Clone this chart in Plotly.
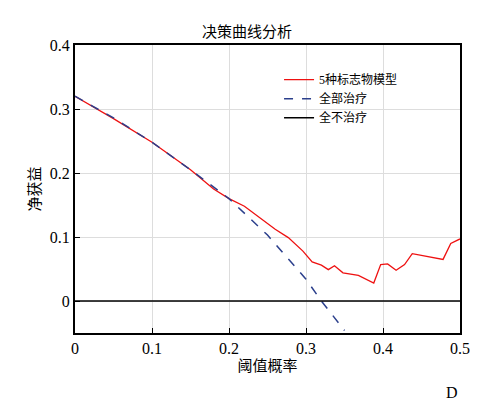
import plotly.graph_objects as go

model_x = [0, 0.05, 0.1, 0.15, 0.18, 0.2, 0.22, 0.24, 0.26, 0.277, 0.296, 0.308, 0.32, 0.329, 0.337, 0.348, 0.368, 0.388, 0.397, 0.406, 0.417, 0.428, 0.438, 0.478, 0.488, 0.5]
model_y = [0.32, 0.285, 0.248, 0.205, 0.175, 0.16, 0.148, 0.13, 0.112, 0.099, 0.078, 0.061, 0.056, 0.049, 0.055, 0.044, 0.040, 0.028, 0.057, 0.058, 0.048, 0.057, 0.074, 0.065, 0.09, 0.097]
all_x = [0, 0.05, 0.1, 0.15, 0.2, 0.25, 0.3, 0.32, 0.35]
all_y = [0.32, 0.286, 0.248, 0.205, 0.160, 0.103, 0.034, 0.0, -0.046]
none_x = [0, 0.5]
none_y = [0, 0]

font = "Liberation Serif, Noto Sans CJK SC"
fig = go.Figure()
fig.add_trace(go.Scatter(x=model_x, y=model_y, mode="lines", name="5种标志物模型", line=dict(color="#ee1111", width=1.3)))
fig.add_trace(go.Scatter(x=all_x, y=all_y, mode="lines", name="全部治疗", line=dict(color="#2b3f8c", width=1.5, dash="dash")))
fig.add_trace(go.Scatter(x=none_x, y=none_y, mode="lines", name="全不治疗", line=dict(color="black", width=1.5)))
ax = dict(showline=True, linecolor="black", linewidth=2, mirror=True, ticks="inside", ticklen=5,
          tickcolor="black", showgrid=True, gridcolor="#dddddd", zeroline=False, automargin=False,
          tickfont=dict(size=16, color="black"))
fig.update_layout(
    width=478, height=402, margin=dict(l=67, r=26, t=37, b=77),
    plot_bgcolor="white", paper_bgcolor="white", font=dict(family=font, color="black"),
    title=dict(text="决策曲线分析", x=0.5, xanchor="center", y=0.955, font=dict(size=15), automargin=False),
    xaxis=dict(ax, range=[0, 0.5], tickvals=[0, 0.1, 0.2, 0.3, 0.4, 0.5], ticktext=["0", "0.1", "0.2", "0.3", "0.4", "0.5"],
               title=dict(text="阈值概率", font=dict(size=15), standoff=4)),
    yaxis=dict(ax, range=[-0.05, 0.4], tickvals=[0, 0.1, 0.2, 0.3, 0.4], ticktext=["0", "0.1", "0.2", "0.3", "0.4"],
               title=dict(text="净获益", font=dict(size=15), standoff=6)),
    legend=dict(x=0.53, y=0.93, xanchor="left", yanchor="top", bgcolor="rgba(255,255,255,0)", font=dict(size=12)),
    showlegend=True,
    annotations=[dict(text="D", x=1.0, y=-0.208, xref="paper", yref="paper", xanchor="right", yanchor="middle",
                      showarrow=False, font=dict(size=16))],
)
fig.write_html("out.html")
